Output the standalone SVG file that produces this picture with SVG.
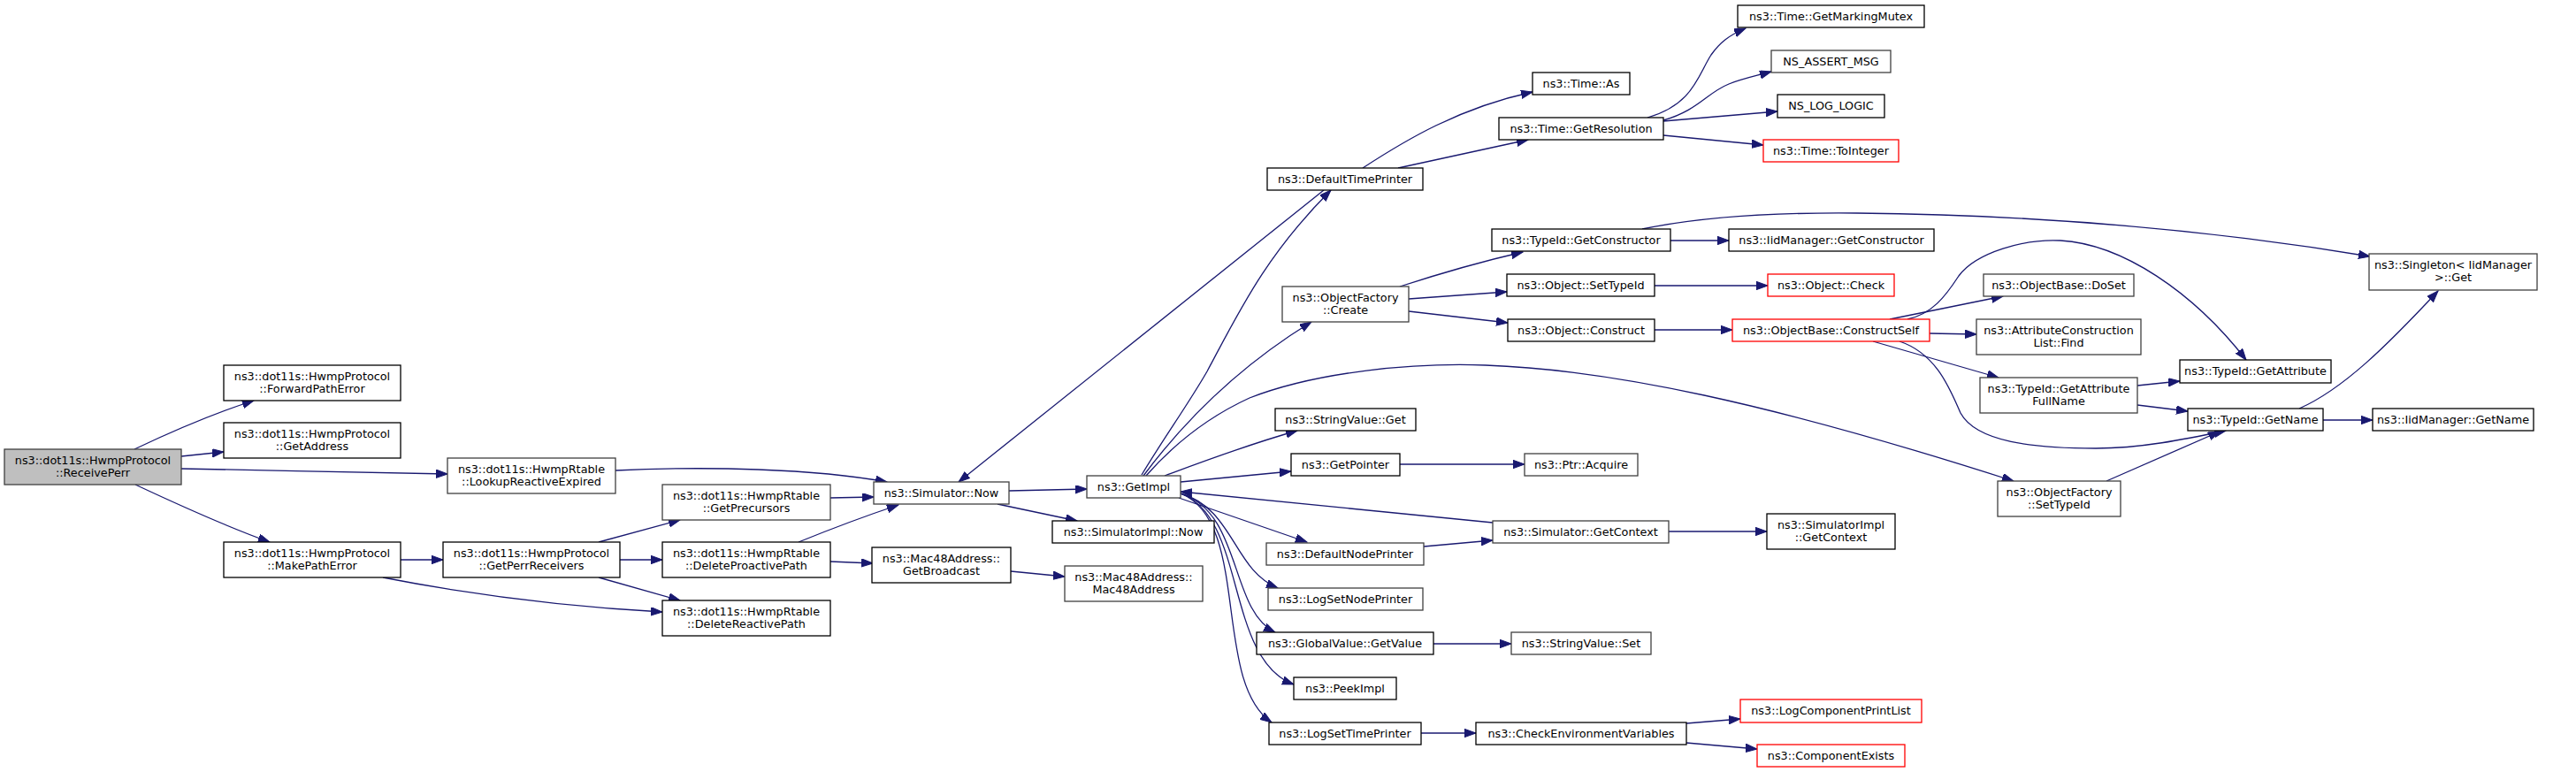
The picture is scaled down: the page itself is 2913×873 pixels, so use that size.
<svg xmlns="http://www.w3.org/2000/svg" width="2913" height="873" viewBox="0 0 2913 873">
<style>
.n rect{fill:#fff;stroke:#000;stroke-width:1.3}
.g rect{stroke:#404040}
.r rect{stroke:#ff0000}
.root rect{fill:#bfbfbf;stroke:#404040}
text{font-family:"DejaVu Sans","Liberation Sans",sans-serif;font-size:12.8px;text-anchor:middle;fill:#000}
#edges path{fill:none;stroke:#191970;stroke-width:1.3;marker-end:url(#ah)}
</style>
<defs>
<marker id="ah" markerUnits="userSpaceOnUse" markerWidth="14" markerHeight="10" refX="13" refY="4.7" orient="auto">
<path d="M0,0 L13,4.7 L0,9.4 z" fill="#191970" stroke="#191970" stroke-width="1"/>
</marker>
</defs>
<rect width="2913" height="873" fill="#fff"/>
<g id="edges">
<path d="M152,508 C190,490 240,468 287,453"/>
<path d="M205,516 L253,511"/>
<path d="M205,530 C300,532 420,534 506,536"/>
<path d="M153,548 C200,570 260,597 305,613"/>
<path d="M453,633 L501,633"/>
<path d="M433,653 C530,672 640,686 749,692"/>
<path d="M696,532 C800,527 920,530 1003,545"/>
<path d="M677,613 L769,588"/>
<path d="M701,633 L749,633"/>
<path d="M677,653 L769,679"/>
<path d="M939,563 L988,562"/>
<path d="M903,613 C940,598 980,583 1016,571"/>
<path d="M939,635 L987,637"/>
<path d="M1143,646 L1204,652"/>
<path d="M1141,555 L1229,553"/>
<path d="M1128,570 L1218,589"/>
<path d="M1497,215 L1084,545"/>
<path d="M1291,537 C1315,497 1345,455 1365,420 C1400,355 1430,290 1505,215"/>
<path d="M1293,538 C1340,475 1400,415 1483,364"/>
<path d="M1296,538 C1325,505 1365,472 1413,450 C1490,420 1600,410 1680,413 C1820,418 2000,455 2277,544"/>
<path d="M1317,538 C1360,522 1410,503 1467,487"/>
<path d="M1335,545 L1460,533"/>
<path d="M1688,591 L1335,556"/>
<path d="M1333,563 L1478,613"/>
<path d="M1335,558 C1395,575 1395,645 1445,665"/>
<path d="M1335,558 C1405,580 1390,690 1442,715"/>
<path d="M1335,558 C1410,585 1385,745 1463,774"/>
<path d="M1335,558 C1415,590 1370,770 1438,817"/>
<path d="M1583,324 C1620,312 1670,297 1722,285"/>
<path d="M1593,338 L1704,330"/>
<path d="M1593,352 L1705,365"/>
<path d="M1541,190 C1590,158 1650,122 1733,104"/>
<path d="M1581,190 L1728,158"/>
<path d="M1863,133 C1915,118 1920,85 1935,62 C1945,48 1955,40 1974,32"/>
<path d="M1881,136 C1920,125 1930,105 1955,95 C1970,89 1985,86 2003,81"/>
<path d="M1881,137 L2010,126"/>
<path d="M1881,153 L1994,164"/>
<path d="M1857,259 C1920,246 2000,240 2100,241 C2300,243 2500,260 2680,290"/>
<path d="M1889,272 L1955,272"/>
<path d="M1871,323 L1999,323"/>
<path d="M1871,373 L1959,373"/>
<path d="M2137,361 L2265,335"/>
<path d="M2157,361 C2185,355 2200,335 2215,312 C2235,285 2290,270 2330,272 C2400,276 2480,330 2540,407"/>
<path d="M2182,377 L2235,378"/>
<path d="M2118,386 L2260,427"/>
<path d="M2148,386 C2190,400 2205,440 2217,467 C2235,500 2300,507 2370,507 C2420,507 2470,497 2517,487"/>
<path d="M2417,436 L2465,431"/>
<path d="M2417,458 L2474,465"/>
<path d="M2382,544 L2510,488"/>
<path d="M2600,462 C2650,440 2700,390 2757,329"/>
<path d="M2627,475 L2683,475"/>
<path d="M1583,525 L1724,525"/>
<path d="M1610,618 L1688,611"/>
<path d="M1887,601 L1998,601"/>
<path d="M1621,728 L1709,728"/>
<path d="M1607,829 L1669,829"/>
<path d="M1907,818 L1968,813"/>
<path d="M1907,840 L1987,847"/>
</g>
<g id="n_receiveperr" class="n root"><rect x="5" y="508" width="200" height="40"/><text x="105" y="525">ns3::dot11s::HwmpProtocol</text><text x="105" y="539">::ReceivePerr</text></g>
<g id="n_forwardpatherror" class="n"><rect x="253" y="413" width="200" height="40"/><text x="353" y="430">ns3::dot11s::HwmpProtocol</text><text x="353" y="444">::ForwardPathError</text></g>
<g id="n_getaddress" class="n"><rect x="253" y="478" width="200" height="40"/><text x="353" y="495">ns3::dot11s::HwmpProtocol</text><text x="353" y="509">::GetAddress</text></g>
<g id="n_makepatherror" class="n"><rect x="253" y="613" width="200" height="40"/><text x="353" y="630">ns3::dot11s::HwmpProtocol</text><text x="353" y="644">::MakePathError</text></g>
<g id="n_lookupreactiveexpired" class="n g"><rect x="506" y="518" width="190" height="40"/><text x="601" y="535">ns3::dot11s::HwmpRtable</text><text x="601" y="549">::LookupReactiveExpired</text></g>
<g id="n_getperrreceivers" class="n"><rect x="501" y="613" width="200" height="40"/><text x="601" y="630">ns3::dot11s::HwmpProtocol</text><text x="601" y="644">::GetPerrReceivers</text></g>
<g id="n_getprecursors" class="n g"><rect x="749" y="548" width="190" height="40"/><text x="844" y="565">ns3::dot11s::HwmpRtable</text><text x="844" y="579">::GetPrecursors</text></g>
<g id="n_deleteproactivepath" class="n"><rect x="749" y="613" width="190" height="40"/><text x="844" y="630">ns3::dot11s::HwmpRtable</text><text x="844" y="644">::DeleteProactivePath</text></g>
<g id="n_deletereactivepath" class="n"><rect x="749" y="679" width="190" height="40"/><text x="844" y="696">ns3::dot11s::HwmpRtable</text><text x="844" y="710">::DeleteReactivePath</text></g>
<g id="n_simulator_now" class="n g"><rect x="988" y="545" width="153" height="25"/><text x="1064.5" y="562">ns3::Simulator::Now</text></g>
<g id="n_getbroadcast" class="n"><rect x="986" y="619" width="157" height="40"/><text x="1064.5" y="636">ns3::Mac48Address::</text><text x="1064.5" y="650">GetBroadcast</text></g>
<g id="n_getimpl" class="n g"><rect x="1229" y="538" width="106" height="25"/><text x="1282" y="555">ns3::GetImpl</text></g>
<g id="n_simulatorimpl_now" class="n"><rect x="1190" y="589" width="183" height="25"/><text x="1281.5" y="606">ns3::SimulatorImpl::Now</text></g>
<g id="n_mac48address" class="n g"><rect x="1204" y="640" width="156" height="40"/><text x="1282" y="657">ns3::Mac48Address::</text><text x="1282" y="671">Mac48Address</text></g>
<g id="n_defaulttimeprinter" class="n"><rect x="1433" y="190" width="176" height="25"/><text x="1521" y="207">ns3::DefaultTimePrinter</text></g>
<g id="n_objectfactory_create" class="n g"><rect x="1450" y="324" width="143" height="40"/><text x="1521.5" y="341">ns3::ObjectFactory</text><text x="1521.5" y="355">::Create</text></g>
<g id="n_stringvalue_get" class="n"><rect x="1442" y="462" width="159" height="25"/><text x="1521.5" y="479">ns3::StringValue::Get</text></g>
<g id="n_getpointer" class="n"><rect x="1460" y="513" width="123" height="25"/><text x="1521.5" y="530">ns3::GetPointer</text></g>
<g id="n_defaultnodeprinter" class="n g"><rect x="1432" y="614" width="178" height="25"/><text x="1521" y="631">ns3::DefaultNodePrinter</text></g>
<g id="n_logsetnodeprinter" class="n g"><rect x="1434" y="665" width="175" height="25"/><text x="1521.5" y="682">ns3::LogSetNodePrinter</text></g>
<g id="n_globalvalue_getvalue" class="n"><rect x="1421" y="715" width="200" height="25"/><text x="1521" y="732">ns3::GlobalValue::GetValue</text></g>
<g id="n_peekimpl" class="n"><rect x="1463" y="766" width="116" height="25"/><text x="1521" y="783">ns3::PeekImpl</text></g>
<g id="n_logsettimeprinter" class="n"><rect x="1435" y="817" width="172" height="25"/><text x="1521" y="834">ns3::LogSetTimePrinter</text></g>
<g id="n_time_as" class="n"><rect x="1733" y="82" width="110" height="25"/><text x="1788" y="99">ns3::Time::As</text></g>
<g id="n_time_getresolution" class="n"><rect x="1695" y="133" width="186" height="25"/><text x="1788" y="150">ns3::Time::GetResolution</text></g>
<g id="n_typeid_getconstructor" class="n"><rect x="1687" y="259" width="202" height="25"/><text x="1788" y="276">ns3::TypeId::GetConstructor</text></g>
<g id="n_object_settypeid" class="n"><rect x="1704" y="310" width="167" height="25"/><text x="1787.5" y="327">ns3::Object::SetTypeId</text></g>
<g id="n_object_construct" class="n"><rect x="1705" y="361" width="166" height="25"/><text x="1788" y="378">ns3::Object::Construct</text></g>
<g id="n_ptr_acquire" class="n g"><rect x="1724" y="513" width="128" height="25"/><text x="1788" y="530">ns3::Ptr::Acquire</text></g>
<g id="n_simulator_getcontext" class="n g"><rect x="1688" y="589" width="199" height="25"/><text x="1787.5" y="606">ns3::Simulator::GetContext</text></g>
<g id="n_stringvalue_set" class="n g"><rect x="1709" y="715" width="158" height="25"/><text x="1788" y="732">ns3::StringValue::Set</text></g>
<g id="n_checkenvironmentvariables" class="n"><rect x="1669" y="817" width="238" height="25"/><text x="1788" y="834">ns3::CheckEnvironmentVariables</text></g>
<g id="n_time_getmarkingmutex" class="n"><rect x="1965" y="6" width="211" height="25"/><text x="2070.5" y="23">ns3::Time::GetMarkingMutex</text></g>
<g id="n_ns_assert_msg" class="n g"><rect x="2003" y="57" width="135" height="25"/><text x="2070.5" y="74">NS_ASSERT_MSG</text></g>
<g id="n_ns_log_logic" class="n"><rect x="2010" y="107" width="121" height="26"/><text x="2070.5" y="124">NS_LOG_LOGIC</text></g>
<g id="n_time_tointeger" class="n r"><rect x="1994" y="158" width="153" height="25"/><text x="2070.5" y="175">ns3::Time::ToInteger</text></g>
<g id="n_iidmanager_getconstructor" class="n"><rect x="1955" y="259" width="232" height="25"/><text x="2071" y="276">ns3::IidManager::GetConstructor</text></g>
<g id="n_object_check" class="n r"><rect x="1999" y="310" width="143" height="25"/><text x="2070.5" y="327">ns3::Object::Check</text></g>
<g id="n_objectbase_constructself" class="n r"><rect x="1959" y="361" width="223" height="25"/><text x="2070.5" y="378">ns3::ObjectBase::ConstructSelf</text></g>
<g id="n_simulatorimpl_getcontext" class="n"><rect x="1998" y="581" width="145" height="40"/><text x="2070.5" y="598">ns3::SimulatorImpl</text><text x="2070.5" y="612">::GetContext</text></g>
<g id="n_logcomponentprintlist" class="n r"><rect x="1968" y="791" width="205" height="26"/><text x="2070.5" y="808">ns3::LogComponentPrintList</text></g>
<g id="n_componentexists" class="n r"><rect x="1987" y="842" width="167" height="25"/><text x="2070.5" y="859">ns3::ComponentExists</text></g>
<g id="n_objectbase_doset" class="n g"><rect x="2243" y="310" width="170" height="25"/><text x="2328" y="327">ns3::ObjectBase::DoSet</text></g>
<g id="n_attributeconstructionlist_find" class="n g"><rect x="2235" y="361" width="186" height="40"/><text x="2328" y="378">ns3::AttributeConstruction</text><text x="2328" y="392">List::Find</text></g>
<g id="n_typeid_getattributefullname" class="n g"><rect x="2239" y="427" width="178" height="40"/><text x="2328" y="444">ns3::TypeId::GetAttribute</text><text x="2328" y="458">FullName</text></g>
<g id="n_objectfactory_settypeid" class="n g"><rect x="2259" y="544" width="139" height="40"/><text x="2328.5" y="561">ns3::ObjectFactory</text><text x="2328.5" y="575">::SetTypeId</text></g>
<g id="n_typeid_getattribute" class="n"><rect x="2465" y="407" width="171" height="26"/><text x="2550.5" y="424">ns3::TypeId::GetAttribute</text></g>
<g id="n_typeid_getname" class="n"><rect x="2474" y="462" width="153" height="25"/><text x="2550.5" y="479">ns3::TypeId::GetName</text></g>
<g id="n_singleton_get" class="n g"><rect x="2679" y="287" width="190" height="41"/><text x="2774" y="304">ns3::Singleton&lt; IidManager</text><text x="2774" y="318">&gt;::Get</text></g>
<g id="n_iidmanager_getname" class="n"><rect x="2683" y="462" width="182" height="25"/><text x="2774" y="479">ns3::IidManager::GetName</text></g>
</svg>
